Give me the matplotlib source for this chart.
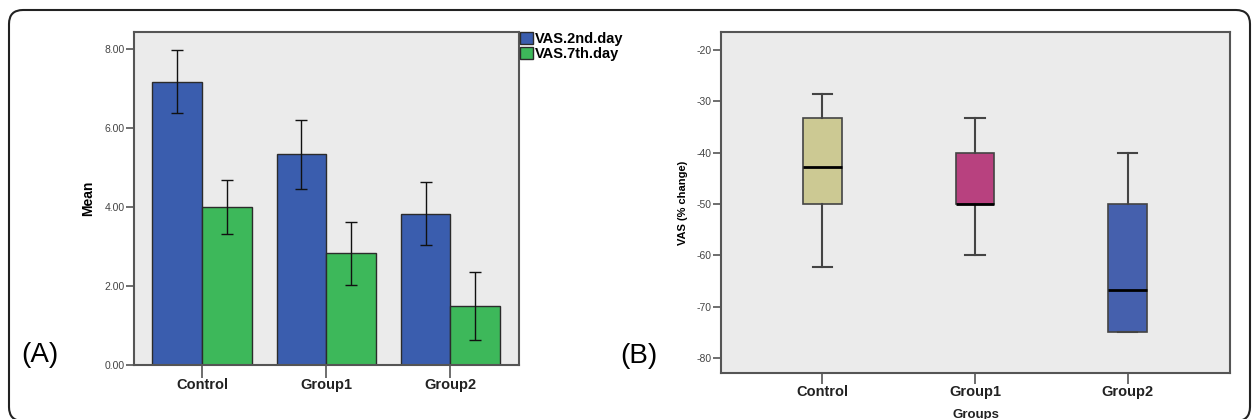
import matplotlib
matplotlib.use("Agg")
import matplotlib.pyplot as plt
import numpy as np
from matplotlib.patches import FancyBboxPatch
from matplotlib.transforms import IdentityTransform

plt.rcParams['font.family'] = ['Liberation Sans', 'DejaVu Sans']
plt.rcParams['axes.unicode_minus'] = False

# panel A: mean VAS with error bars
groups = ["Control", "Group1", "Group2"]
vas_2nd_mean = [7.17, 5.33, 3.83]
vas_2nd_err = [0.80, 0.87, 0.80]
vas_7th_mean = [4.00, 2.83, 1.50]
vas_7th_err = [0.67, 0.80, 0.87]
series_labels = ["VAS.2nd.day", "VAS.7th.day"]

# panel B: box plot of VAS % change
whisker_hi = [-28.5, -33.3, -40.0]
q3 = [-33.3, -40.0, -50.0]
median = [-42.7, -50.0, -66.7]
q1 = [-50.0, -50.0, -75.0]
whisker_lo = [-62.3, -60.0, -75.0]

W, H = 1254, 419
fig = plt.figure(figsize=(W / 100, H / 100), dpi=100)
fig.patch.set_facecolor('white')

bg = '#ebebeb'
spine_c = '#555555'
blue = '#3a5dae'
green = '#3db85a'

# ---- panel A ----
axA = fig.add_axes([133.5 / W, 1 - 365.3 / H, 385.5 / W, 333.6 / H])
x = np.arange(len(groups))
axA.bar(x - 0.2, vas_2nd_mean, 0.4, color=blue, edgecolor='#2b2b2b', linewidth=1,
        label=series_labels[0], zorder=2)
axA.bar(x + 0.2, vas_7th_mean, 0.4, color=green, edgecolor='#2b2b2b', linewidth=1,
        label=series_labels[1], zorder=2)
axA.errorbar(x - 0.2, vas_2nd_mean, yerr=vas_2nd_err, fmt='none', ecolor='#111111',
             elinewidth=1, capsize=4.2, capthick=1, zorder=3)
axA.errorbar(x + 0.2, vas_7th_mean, yerr=vas_7th_err, fmt='none', ecolor='#111111',
             elinewidth=1, capsize=4.2, capthick=1, zorder=3)
axA.set_xlim(-0.553, 2.553)
axA.set_ylim(0, 8.43)
axA.set_yticks([0, 2, 4, 6, 8])
axA.set_yticklabels([f"{v:.2f}" for v in [0, 2, 4, 6, 8]])
axA.set_xticks(x)
axA.set_xticklabels(groups, fontsize=10.5, fontweight='bold', color='#222222')
axA.set_ylabel("Mean", fontsize=10, fontweight='bold')
axA.yaxis.set_label_coords((95 - 133.5) / 385.5, 0.5)
axA.tick_params(axis='y', length=6, width=1.2, color=spine_c, labelsize=7.5,
                labelcolor='#444444', pad=0.5)
axA.tick_params(axis='x', length=9, width=1.2, color=spine_c, pad=0.5)
axA.set_facecolor(bg)
for s in axA.spines.values():
    s.set_color(spine_c)
    s.set_linewidth(1.5)
fig.legend(loc='upper left', bbox_to_anchor=(519.5 / W, 1 - 32 / H), frameon=False,
           handlelength=0.9, handleheight=0.9, handletextpad=0.15,
           labelspacing=0.05, borderpad=0, borderaxespad=0,
           prop={'weight': 'bold', 'size': 10.5})

# ---- panel B ----
axB = fig.add_axes([721 / W, 1 - 373.3 / H, 509 / W, 341.6 / H])
stats = []
for i, g in enumerate(groups):
    stats.append({'label': g, 'whislo': whisker_lo[i], 'q1': q1[i], 'med': median[i],
                  'q3': q3[i], 'whishi': whisker_hi[i], 'fliers': []})
bp = axB.bxp(stats, positions=x, widths=0.252, patch_artist=True, showfliers=False,
             boxprops={'edgecolor': '#444444', 'linewidth': 1.2},
             medianprops={'color': 'black', 'linewidth': 2},
             whiskerprops={'color': '#444444', 'linewidth': 1.5},
             capprops={'color': '#444444', 'linewidth': 1.5}, capwidths=0.126)
for patch, c in zip(bp['boxes'], ['#ccc993', '#b8417f', '#4560ad']):
    patch.set_facecolor(c)
axB.set_xlim(-0.664, 2.67)
axB.set_ylim(-83.0, -16.4)
axB.set_yticks([-20, -30, -40, -50, -60, -70, -80])
axB.set_xticks(x)
axB.set_xticklabels(groups, fontsize=10.5, fontweight='bold', color='#222222')
axB.set_xlabel("Groups", fontsize=9.5, fontweight='bold', color='#222222', labelpad=7)
axB.set_ylabel("VAS (% change)", fontsize=8, fontweight='bold')
axB.yaxis.set_label_coords((688 - 721) / 509, 0.5)
axB.tick_params(axis='y', length=6, width=1.2, color=spine_c, labelsize=7.5,
                labelcolor='#444444', pad=0.5)
axB.tick_params(axis='x', length=8, width=1.2, color=spine_c, pad=0.5)
axB.set_facecolor(bg)
for s in axB.spines.values():
    s.set_color(spine_c)
    s.set_linewidth(1.5)

# panel letters
fig.text(21 / W, 1 - 355 / H, "(A)", fontsize=20, va='center', ha='left')
fig.text(620 / W, 1 - 356 / H, "(B)", fontsize=20, va='center', ha='left')

# rounded outer frame (bottom edge runs off the image)
frame = FancyBboxPatch((9, H - 421), 1241, 411, boxstyle="round,pad=0,rounding_size=14",
                       transform=IdentityTransform(), facecolor='none',
                       edgecolor='#222222', linewidth=1.5)
fig.add_artist(frame)

fig.savefig("out.png", dpi=100)
